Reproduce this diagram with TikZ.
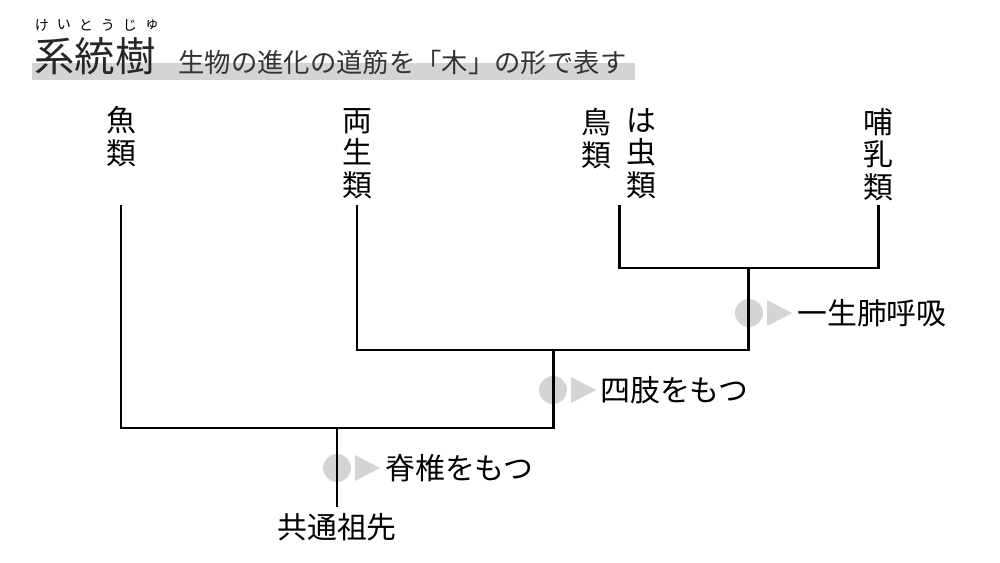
\documentclass[tikz,border=0pt]{standalone}
\usepackage{fontspec}
\setmainfont{Noto Sans CJK JP}
\usetikzlibrary{positioning}

\begin{document}
\begin{tikzpicture}[x=0.02cm, y=-0.02cm,
	branch/.style={line width=1.7pt},
	taxon/.style={font=\fontsize{17}{18.5}\selectfont, align=center, anchor=north, inner sep=0pt},
	trait/.style={font=\fontsize{17}{18}\selectfont, anchor=west, inner sep=0pt},
	dot/.style={circle, fill=black!17, minimum size=0.56cm, inner sep=0pt}]
	\useasboundingbox (0,0) rectangle (1000,563);
	% title
	\fill[black!17] (32,63) rectangle (635,80);
	\node[anchor=base west, inner sep=0pt, font=\fontsize{23}{23}\selectfont, text=black!85] (title) at (34,72) {系統樹};
	\node[anchor=base west, inner sep=0pt, font=\fontsize{15}{15}\selectfont, text=black!80] (subtitle) at (178,73) {生物の進化の道筋を「木」の形で表す};
	\foreach \k [count=\i] in {け,い,と,う,じ,ゅ}
		\node[inner sep=0pt, font=\fontsize{8}{8}\selectfont] (ruby\i) at (20+22*\i,25) {\k};
	% taxa
	\node[taxon] (fish) at (121,106) {魚\\類};
	\node[taxon] (amph) at (357,108) {両\\生\\類};
	\node[taxon] (bird) at (596,108) {鳥\\類};
	\node[taxon] (rept) at (641,108) {は\\虫\\類};
	\node[taxon] (mamm) at (878,108) {哺\\乳\\類};
	\node[taxon, anchor=center] (root) at (337,527) {共通祖先};
	% tips and joints
	\coordinate (fishT) at (121,205);
	\coordinate (amphT) at (357,205);
	\coordinate (reptT) at (619,205);
	\coordinate (mammT) at (878,205);
	\coordinate (j1) at (748,268);
	\coordinate (j2) at (553,350);
	\coordinate (j3) at (337,428);
	\coordinate (rootT) at (337,507);
	% trait marks
	\node[dot] (lung) at (749,313) {};
	\node[dot] (limb) at (553,390) {};
	\node[dot] (spine) at (337,468) {};
	\foreach \m in {lung,limb,spine}
		\fill[black!17] ([xshift=18*0.02cm]\m.center) -- ++(0,-13) -- ++(25,13) -- ++(-25,13) -- cycle;
	\node[trait] (lungT) at (797,313) {一生肺呼吸};
	\node[trait] (limbT) at (600,390) {四肢をもつ};
	\node[trait] (spineT) at (385,468) {脊椎をもつ};
	% branches
	\draw[branch] (reptT) |- (j1) -| (mammT);
	\draw[branch] (amphT) |- (j2) -| (j1);
	\draw[branch] (fishT) |- (j3) -| (j2);
	\draw[branch] (j3) -- (rootT);
\end{tikzpicture}
\end{document}
